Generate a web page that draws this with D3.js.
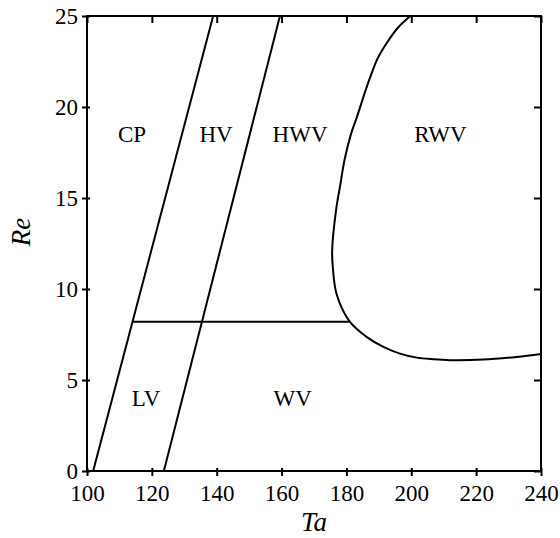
<!DOCTYPE html>
<html>
<head>
<meta charset="utf-8">
<script src="https://cdn.jsdelivr.net/npm/d3@7/dist/d3.min.js"></script>
</head>
<body style="margin:0">
<script>
// regime boundaries (Ta, Re)
const line1 = [[101.9, 0], [138.9, 25]];
const line2 = [[123.7, 0], [159.5, 25]];
const wavyLine = [[114.1, 8.2], [181.1, 8.2]];
const rwvCurve = [
  [199.7, 25], [196.0, 24.38], [192.9, 23.64], [189.8, 22.73], [187.3, 21.63],
  [185.2, 20.53], [183.2, 19.43], [181.4, 18.51], [179.4, 17.08],
  [178.2, 15.82], [176.8, 14.33], [175.6, 12.1], [175.8, 11.2], [177.0, 9.7],
  [181.1, 8.19], [186.2, 7.37], [191.4, 6.82], [196.5, 6.45], [201.7, 6.23],
  [206.8, 6.14], [211.9, 6.09], [222.2, 6.12], [232.5, 6.27], [240, 6.43]
];

const regionNames = ["CP", "HV", "HWV", "RWV", "LV", "WV"];
const regionTa = [113.9, 139.8, 165.7, 209.0, 118.2, 163.4];
const regionRe = [18.5, 18.5, 18.5, 18.5, 4.0, 4.0];

const xTicks = [100, 120, 140, 160, 180, 200, 220, 240];
const yTicks = [0, 5, 10, 15, 20, 25];

const FONT = "'Liberation Serif', monospace";

const W = 560, H = 538;
const margin = {left: 87, right: 19, top: 16, bottom: 67};
const width = W - margin.left - margin.right;
const height = H - margin.top - margin.bottom;

const svg = d3.select("body").append("svg")
  .attr("width", W)
  .attr("height", H);

const chart = svg.append("g")
  .attr("transform", "translate(" + margin.left + "," + margin.top + ")");

///////////////////////
// Scales
const x = d3.scaleLinear().domain([100, 240]).range([0, width]);
const y = d3.scaleLinear().domain([0, 25]).range([height, 0]);

///////////////////////
// Axes (ticks cross on left/bottom, inward on top/right)
const styleAxis = g => {
  g.attr("font-family", FONT).attr("font-size", 23);
  g.select(".domain").remove();
  g.selectAll("line").attr("stroke", "#000").attr("stroke-width", 2);
  g.selectAll("text").attr("fill", "#000");
};

chart.append("g")
  .attr("transform", "translate(0," + height + ")")
  .call(d3.axisBottom(x).tickValues(xTicks).tickSize(5).tickPadding(9))
  .call(styleAxis)
  .call(g => g.selectAll(".tick line").attr("y1", -3));

chart.append("g")
  .call(d3.axisLeft(y).tickValues(yTicks).tickSize(5).tickPadding(4))
  .call(styleAxis)
  .call(g => g.selectAll(".tick line").attr("x1", 3))
  .call(g => g.selectAll("text").attr("dy", "0.32em"));

chart.append("g")
  .call(d3.axisTop(x).tickValues(xTicks).tickSize(-7).tickFormat(""))
  .call(styleAxis);

chart.append("g")
  .attr("transform", "translate(" + width + ",0)")
  .call(d3.axisRight(y).tickValues(yTicks).tickSize(-7).tickFormat(""))
  .call(styleAxis);

chart.append("rect")
  .attr("width", width)
  .attr("height", height)
  .attr("fill", "none")
  .attr("stroke", "#000")
  .attr("stroke-width", 2);

///////////////////////
// Boundaries
const straight = d3.line().x(d => x(d[0])).y(d => y(d[1]));
const smooth = d3.line().x(d => x(d[0])).y(d => y(d[1])).curve(d3.curveCatmullRom.alpha(0.5));

[line1, line2, wavyLine].forEach(l => {
  chart.append("path")
    .attr("d", straight(l))
    .attr("fill", "none")
    .attr("stroke", "#000")
    .attr("stroke-width", 2);
});

chart.append("path")
  .attr("d", smooth(rwvCurve))
  .attr("fill", "none")
  .attr("stroke", "#000")
  .attr("stroke-width", 2);

///////////////////////
// Region labels
chart.selectAll(".region")
  .data(regionNames)
  .enter().append("text")
    .attr("class", "region")
    .attr("x", (d, i) => x(regionTa[i]))
    .attr("y", (d, i) => y(regionRe[i]))
    .attr("dy", "0.35em")
    .attr("text-anchor", "middle")
    .style("font-family", FONT)
    .style("font-size", "23px")
    .text(d => d);

///////////////////////
// Axis titles
svg.append("text")
  .attr("x", margin.left + width / 2)
  .attr("y", 531)
  .attr("text-anchor", "middle")
  .style("font-family", FONT)
  .style("font-size", "27px")
  .style("font-style", "italic")
  .text("Ta");

svg.append("text")
  .attr("transform", "translate(30,232) rotate(-90)")
  .attr("text-anchor", "middle")
  .style("font-family", FONT)
  .style("font-size", "27px")
  .style("font-style", "italic")
  .text("Re");
</script>
</body>
</html>
